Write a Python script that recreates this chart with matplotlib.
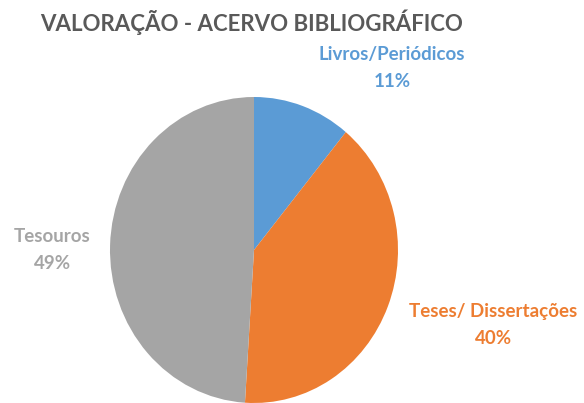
import matplotlib.pyplot as plt

categorias = ["Livros/Periódicos", "Teses/ Dissertações", "Tesouros"]
valores = [11, 40, 49]
cores = ["#5B9BD5", "#ED7D31", "#A5A5A5"]
# posição dos rótulos (coordenadas do eixo)
pos_rotulos = [(0.96, 1.19), (1.66, -0.49), (-1.40, 0.0)]

plt.rcParams['font.family'] = ['Lato', 'DejaVu Sans']

W, H = 584, 403
fig = plt.figure(figsize=(W / 100, H / 100), dpi=100)
# pie levemente esticado na vertical, como na imagem original
ax = fig.add_axes([110 / W, 0, 288 / W, 306 / H])
ax.pie(valores, colors=cores, startangle=90, counterclock=False,
       wedgeprops=dict(linewidth=0))
ax.set_aspect('auto')
ax.set_xlim(-1, 1)
ax.set_ylim(-1, 1)

for nome, v, cor, (x, y) in zip(categorias, valores, cores, pos_rotulos):
    ax.text(x, y, f"{nome}\n{v}%", color=cor, fontsize=13.5, fontweight='bold',
            ha='center', va='center', linespacing=1.75, clip_on=False)

fig.text(252 / W, 1 - 22 / H, "VALORAÇÃO - ACERVO BIBLIOGRÁFICO",
         color="#595959", fontsize=16, fontweight='bold', ha='center', va='center')

fig.savefig("out.png", dpi=100)
